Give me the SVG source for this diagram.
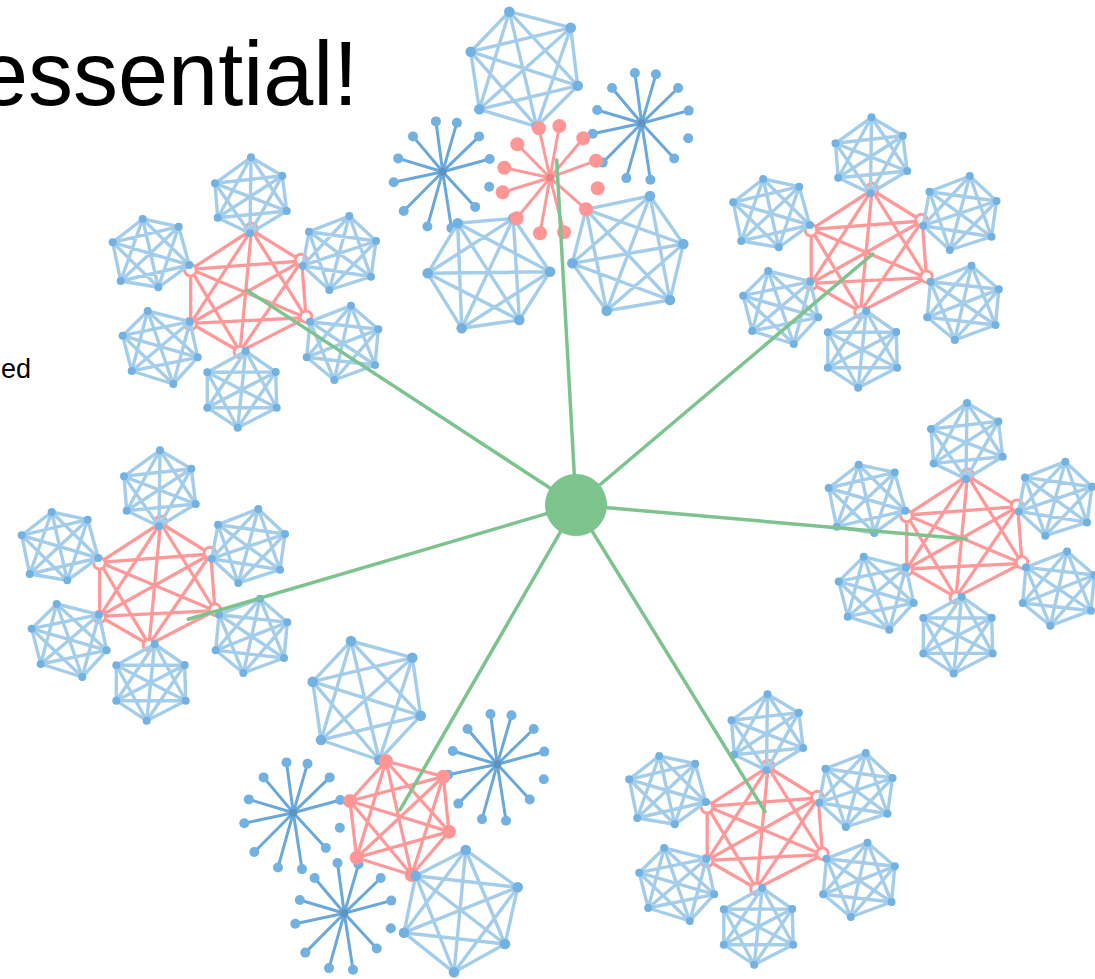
<svg xmlns="http://www.w3.org/2000/svg" width="1095" height="979" viewBox="0 0 1095 979">
<style>
.rk{fill:none;stroke:#ff9999;stroke-width:3.3;stroke-linejoin:round;stroke-linecap:round}
.rh{fill:#fff;stroke:#ff9999;stroke-width:3}
.rd{fill:#ff9696}
.bk{fill:none;stroke:#a4cdea;stroke-width:3.4;stroke-linejoin:round;stroke-linecap:round}
.bd{fill:#72b1e0}
.sp{fill:none;stroke:#6aa8da;stroke-width:3;stroke-linecap:round}
.sc{fill:#5f93bd}
.rs{fill:none;stroke:#ff9999;stroke-width:3;stroke-linecap:round}
.edge{stroke:#7cc38e;stroke-width:3.5;stroke-linecap:round;fill:none}
.txt{font-family:"Liberation Sans",Arial,sans-serif;fill:#000}
</style>
<defs>
<g id="hexcluster">
<path class="rk" d="M5,-62L55.2,-31L59.5,25.7L-6.5,59.7L-55.8,31.3L-55.8,-22.7Z M5,-62L59.5,25.7L-55.8,31.3Z M55.2,-31L-6.5,59.7L-55.8,-22.7Z M5,-62L-6.5,59.7 M55.2,-31L-55.8,31.3 M59.5,25.7L-55.8,-22.7"/>
<circle class="rh" cx="5" cy="-63" r="5.8"/>
<circle class="rh" cx="54.5" cy="-32" r="5.8"/>
<circle class="rh" cx="59.5" cy="24.7" r="5.8"/>
<circle class="rh" cx="-6.5" cy="60" r="5.8"/>
<circle class="rh" cx="-56" cy="32" r="5.8"/>
<circle class="rh" cx="-56" cy="-21.7" r="5.8"/>
<path class="bk" d="M4.5,-134.7L35.8,-116.3L40.2,-81L3.5,-58.7L-28.8,-74.3L-31.5,-108.7Z M4.5,-134.7L40.2,-81L-28.8,-74.3Z M35.8,-116.3L3.5,-58.7L-31.5,-108.7Z M4.5,-134.7L3.5,-58.7 M35.8,-116.3L-28.8,-74.3 M40.2,-81L-31.5,-108.7"/>
<path class="bk" d="M102.8,-76L129.5,-51L124.5,-15.3L82.8,-2L56.2,-26.3L62.5,-60.3Z M102.8,-76L124.5,-15.3L56.2,-26.3Z M129.5,-51L82.8,-2L62.5,-60.3Z M102.8,-76L82.8,-2 M129.5,-51L56.2,-26.3 M124.5,-15.3L62.5,-60.3"/>
<path class="bk" d="M104.5,13.7L131.8,37.3L128.5,73L87.8,88L60.2,65.3L63.5,29.7Z M104.5,13.7L128.5,73L60.2,65.3Z M131.8,37.3L87.8,88L63.5,29.7Z M104.5,13.7L87.8,88 M131.8,37.3L60.2,65.3 M128.5,73L63.5,29.7"/>
<path class="bk" d="M-0.8,59L29.2,80L30.2,115.7L-8.8,135.7L-39.2,115.7L-39.2,80.3Z M-0.8,59L30.2,115.7L-39.2,115.7Z M29.2,80L-8.8,135.7L-39.2,80.3Z M-0.8,59L-8.8,135.7 M29.2,80L-39.2,115.7 M30.2,115.7L-39.2,80.3"/>
<path class="bk" d="M-98.8,19L-56.5,29.7L-48.8,65.3L-73.2,92L-114.8,79L-123.8,43.7Z M-98.8,19L-48.8,65.3L-114.8,79Z M-56.5,29.7L-73.2,92L-123.8,43.7Z M-98.8,19L-73.2,92 M-56.5,29.7L-114.8,79 M-48.8,65.3L-123.8,43.7"/>
<path class="bk" d="M-103.8,-73L-67.8,-65.3L-57.2,-27L-88.2,-4.7L-125.8,-11L-133.8,-49.7Z M-103.8,-73L-57.2,-27L-125.8,-11Z M-67.8,-65.3L-88.2,-4.7L-133.8,-49.7Z M-103.8,-73L-88.2,-4.7 M-67.8,-65.3L-125.8,-11 M-57.2,-27L-133.8,-49.7"/>
<g class="bd">
<circle cx="4.5" cy="-134.7" r="4"/><circle cx="35.8" cy="-116.3" r="4"/><circle cx="40.2" cy="-81" r="4"/><circle cx="3.5" cy="-58.7" r="4"/><circle cx="-28.8" cy="-74.3" r="4"/><circle cx="-31.5" cy="-108.7" r="4"/>
<circle cx="102.8" cy="-76" r="4"/><circle cx="129.5" cy="-51" r="4"/><circle cx="124.5" cy="-15.3" r="4"/><circle cx="82.8" cy="-2" r="4"/><circle cx="56.2" cy="-26.3" r="4"/><circle cx="62.5" cy="-60.3" r="4"/>
<circle cx="104.5" cy="13.7" r="4"/><circle cx="131.8" cy="37.3" r="4"/><circle cx="128.5" cy="73" r="4"/><circle cx="87.8" cy="88" r="4"/><circle cx="60.2" cy="65.3" r="4"/><circle cx="63.5" cy="29.7" r="4"/>
<circle cx="-0.8" cy="59" r="4"/><circle cx="29.2" cy="80" r="4"/><circle cx="30.2" cy="115.7" r="4"/><circle cx="-8.8" cy="135.7" r="4"/><circle cx="-39.2" cy="115.7" r="4"/><circle cx="-39.2" cy="80.3" r="4"/>
<circle cx="-98.8" cy="19" r="4"/><circle cx="-56.5" cy="29.7" r="4"/><circle cx="-48.8" cy="65.3" r="4"/><circle cx="-73.2" cy="92" r="4"/><circle cx="-114.8" cy="79" r="4"/><circle cx="-123.8" cy="43.7" r="4"/>
<circle cx="-103.8" cy="-73" r="4"/><circle cx="-67.8" cy="-65.3" r="4"/><circle cx="-57.2" cy="-27" r="4"/><circle cx="-88.2" cy="-4.7" r="4"/><circle cx="-125.8" cy="-11" r="4"/><circle cx="-133.8" cy="-49.7" r="4"/>
</g>
</g>
<g id="bstar">
<path class="sp" d="M0,0L-6.8,-50.3M0,0L14.2,-49M0,0L36.4,-35.3M0,0L47,-12.7M0,0L32.5,35.2M0,0L8.7,56.4M0,0L-15.3,54.8M0,0L-39,39.3M0,0L-49,10.5M0,0L-44.5,-13.3M0,0L-29.7,-35.3"/>
<g class="bd">
<circle cx="-6.8" cy="-50.3" r="5"/><circle cx="14.2" cy="-49" r="5"/><circle cx="36.4" cy="-35.3" r="5"/><circle cx="47" cy="-12.7" r="5"/><circle cx="46.5" cy="15" r="5"/><circle cx="32.5" cy="35.2" r="5"/><circle cx="8.7" cy="56.4" r="5"/><circle cx="-15.3" cy="54.8" r="5"/><circle cx="-39" cy="39.3" r="5"/><circle cx="-49" cy="10.5" r="5"/><circle cx="-44.5" cy="-13.3" r="5"/><circle cx="-29.7" cy="-35.3" r="5"/>
</g>
<circle class="sc" cx="0" cy="0" r="4"/>
</g>
</defs>

<rect width="1095" height="979" fill="#fff"/>

<g id="title">
<text class="txt" x="-22" y="105" font-size="90">essential!</text>
<text class="txt" x="1" y="378" font-size="27">ed</text>
</g>

<g id="cluster-top-left" transform="translate(246.5,292)"><use href="#hexcluster"/></g>
<g id="cluster-top-right" transform="translate(867,252)"><use href="#hexcluster"/></g>
<g id="cluster-left" transform="translate(155.5,585)"><use href="#hexcluster"/></g>
<g id="cluster-right" transform="translate(962.5,537.7)"><use href="#hexcluster"/></g>
<g id="cluster-bottom-right" transform="translate(763,829)"><use href="#hexcluster"/></g>

<g id="cluster-top">
<use href="#bstar" transform="translate(442.7,171.7)"/>
<use href="#bstar" transform="translate(641.7,123.3)"/>
<path class="bk" d="M509.3,11.7L570.7,27.7L577.7,85.7L536.7,126.7L479.3,109.3L470.7,51.7Z M509.3,11.7L577.7,85.7L479.3,109.3Z M570.7,27.7L536.7,126.7L470.7,51.7Z M509.3,11.7L536.7,126.7 M570.7,27.7L479.3,109.3 M577.7,85.7L470.7,51.7"/>
<path class="bk" d="M457.7,223.3L513.3,218.3L550,271.7L519.3,320L461.7,328.3L427.7,273.3Z M457.7,223.3L550,271.7L461.7,328.3Z M513.3,218.3L519.3,320L427.7,273.3Z M457.7,223.3L519.3,320 M513.3,218.3L461.7,328.3 M550,271.7L427.7,273.3"/>
<path class="bk" d="M650,196L683.3,244L670,300L606.7,310.7L572.3,263.3L586,209.3Z M650,196L670,300L572.3,263.3Z M683.3,244L606.7,310.7L586,209.3Z M650,196L606.7,310.7 M683.3,244L572.3,263.3 M670,300L586,209.3"/>
<g class="bd">
<circle cx="509.3" cy="11.7" r="5.3"/><circle cx="570.7" cy="27.7" r="5.3"/><circle cx="577.7" cy="85.7" r="5.3"/><circle cx="536.7" cy="126.7" r="5.3"/><circle cx="479.3" cy="109.3" r="5.3"/><circle cx="470.7" cy="51.7" r="5.3"/>
<circle cx="457.7" cy="223.3" r="5.3"/><circle cx="513.3" cy="218.3" r="5.3"/><circle cx="550" cy="271.7" r="5.3"/><circle cx="519.3" cy="320" r="5.3"/><circle cx="461.7" cy="328.3" r="5.3"/><circle cx="427.7" cy="273.3" r="5.3"/>
<circle cx="650" cy="196" r="5.3"/><circle cx="683.3" cy="244" r="5.3"/><circle cx="670" cy="300" r="5.3"/><circle cx="606.7" cy="310.7" r="5.3"/><circle cx="572.3" cy="263.3" r="5.3"/><circle cx="586" cy="209.3" r="5.3"/>
</g>
<path class="rs" d="M550,177.7L539,128.3M550,177.7L559.3,126M550,177.7L583.3,138.3M550,177.7L596,160.7M550,177.7L586,209.3M550,177.7L564,232.3M550,177.7L540,233.3M550,177.7L516.7,218.3M550,177.7L502.7,192.3M550,177.7L504.3,167.7M550,177.7L517.3,144.3"/>
<g class="rd">
<circle cx="539" cy="128.3" r="7"/><circle cx="559.3" cy="126" r="7"/><circle cx="583.3" cy="138.3" r="7"/><circle cx="596" cy="160.7" r="7"/><circle cx="597.7" cy="188.3" r="7"/><circle cx="586" cy="209.3" r="7"/><circle cx="564" cy="232.3" r="7"/><circle cx="540" cy="233.3" r="7"/><circle cx="516.7" cy="218.3" r="7"/><circle cx="502.7" cy="192.3" r="7"/><circle cx="504.3" cy="167.7" r="7"/><circle cx="517.3" cy="144.3" r="7"/>
</g>
<circle cx="550" cy="177.7" r="3.8" fill="#f27f7f"/>
</g>

<g id="cluster-bottom">
<use href="#bstar" transform="translate(497.3,764.3)"/>
<use href="#bstar" transform="translate(293.3,812.7)"/>
<use href="#bstar" transform="translate(344.3,913.3)"/>
<path class="bk" d="M351,641L412.3,657.7L420.7,715.7L379.3,760L321,740L312.7,681.7Z M351,641L420.7,715.7L321,740Z M412.3,657.7L379.3,760L312.7,681.7Z M351,641L379.3,760 M412.3,657.7L321,740 M420.7,715.7L312.7,681.7"/>
<path class="bk" d="M465.7,850L517.7,887.3L505,944L454,972.3L404,932.7L415.7,875.7Z M465.7,850L505,944L404,932.7Z M517.7,887.3L454,972.3L415.7,875.7Z M465.7,850L454,972.3 M517.7,887.3L404,932.7 M505,944L415.7,875.7"/>
<g class="bd">
<circle cx="351" cy="641" r="5.3"/><circle cx="412.3" cy="657.7" r="5.3"/><circle cx="420.7" cy="715.7" r="5.3"/><circle cx="379.3" cy="760" r="5.3"/><circle cx="321" cy="740" r="5.3"/><circle cx="312.7" cy="681.7" r="5.3"/>
<circle cx="465.7" cy="850" r="5.3"/><circle cx="517.7" cy="887.3" r="5.3"/><circle cx="505" cy="944" r="5.3"/><circle cx="454" cy="972.3" r="5.3"/><circle cx="404" cy="932.7" r="5.3"/>
</g>
<path class="rk" d="M386,761L443.3,776.7L449,831.7L411.7,875L356.7,857.7L350,801Z M386,761L449,831.7L356.7,857.7Z M443.3,776.7L411.7,875L350,801Z M386,761L411.7,875 M443.3,776.7L356.7,857.7 M449,831.7L350,801"/>
<g class="rd">
<circle cx="386" cy="761" r="7"/><circle cx="443.3" cy="776.7" r="7"/><circle cx="449" cy="831.7" r="7"/><circle cx="411.7" cy="875" r="7"/><circle cx="356.7" cy="857.7" r="7"/><circle cx="350" cy="801" r="7"/>
</g>
<circle class="bd" cx="415.7" cy="875.7" r="5.3"/>
</g>

<g id="connectors">
<line class="edge" x1="576" y1="505" x2="246.7" y2="290"/>
<line class="edge" x1="576" y1="505" x2="556.7" y2="160"/>
<line class="edge" x1="576" y1="505" x2="872.7" y2="254"/>
<line class="edge" x1="576" y1="505" x2="966.7" y2="539"/>
<line class="edge" x1="576" y1="505" x2="765" y2="811.7"/>
<line class="edge" x1="576" y1="505" x2="400" y2="810"/>
<line class="edge" x1="576" y1="505" x2="188.3" y2="619.3"/>
</g>

<g id="center-node">
<circle cx="576" cy="505" r="31" fill="#7cc38e"/>
</g>
</svg>
